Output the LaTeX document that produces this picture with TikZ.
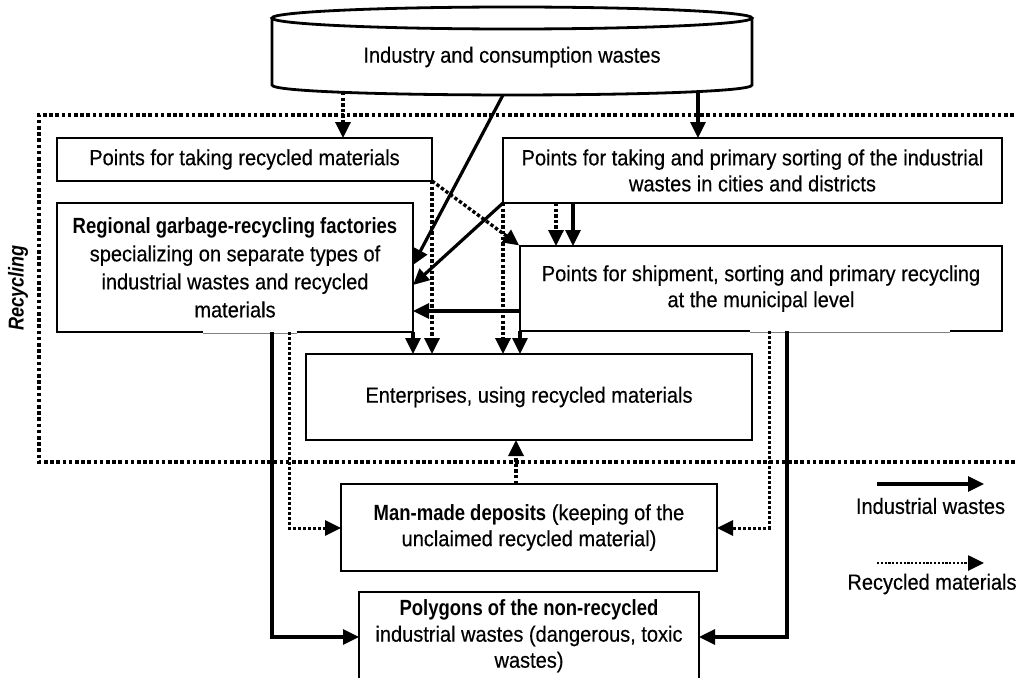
\documentclass[tikz,border=0pt]{standalone}
\usepackage{fontspec}
\setmainfont{Liberation Sans}[FakeStretch=0.91, FakeBold=0.4]
\newfontfamily\nb{Liberation Sans Bold}[FakeStretch=0.84]
\newfontfamily\nbi{Liberation Sans Bold Italic}[FakeStretch=0.84]
\usetikzlibrary{arrows.meta}
\begin{document}
\begin{tikzpicture}[x=1pt,y=-1pt,
  box/.style={draw, line width=2.8pt, inner sep=0pt, outer sep=0pt, align=center,
    font=\fontsize{22}{26}\selectfont},
  tip/.style={-{Triangle[length=16pt,width=15pt]}},
  sol/.style={line width=3.2pt, tip},
  dotl/.style={line width=3.4pt, dash pattern=on 3.4pt off 2.2pt, tip},
  dotthin/.style={line width=3pt, dash pattern=on 3pt off 2pt, tip},
  frame/.style={line width=3.6pt, dash pattern=on 3.6pt off 2.6pt},
  lbl/.style={font=\fontsize{22}{26}\selectfont, inner sep=0pt}]
\clip (0,0) rectangle (1016,677);
\useasboundingbox (0,0) rectangle (1016,677);

% source cylinder
\draw[line width=2.8pt, fill=white] (272,18) -- (272,85) .. controls (272,98.3) and (752,98.3) .. (752,85) -- (752,18);
\draw[line width=2.8pt] (512,18) ellipse [x radius=240, y radius=11];
\node[lbl] (src) at (512,57) {Industry and consumption wastes};
\coordinate (c1) at (343,92);
\coordinate (c2) at (503,95);
\coordinate (c3) at (698,91);

% recycling frame
\draw[frame] (1020,115) -- (39,115) -- (39,462) -- (1020,462);
\node[font=\fontsize{21.5}{24}\nbi, rotate=90, inner sep=0pt] (rec) at (18,288) {Recycling};

% boxes
\node[box, minimum width=375pt, minimum height=43pt] (taking) at (244.5,159.5)
  {Points for taking recycled materials};
\node[box, minimum width=499pt, minimum height=65pt] (sorting) at (752.5,170.5)
  {Points for taking and primary sorting of the industrial\\wastes in cities and districts};
\node[box, minimum width=356pt, minimum height=129pt, font=\fontsize{22}{28}\selectfont] (regional) at (235,267.5)
  {{\nb Regional garbage-recycling factories}\\specializing on separate types of\\industrial wastes and recycled\\materials};
\node[box, minimum width=482pt, minimum height=85pt] (shipment) at (761,288.5)
  {Points for shipment, sorting and primary recycling\\at the municipal level};
\node[box, minimum width=446pt, minimum height=86pt] (enter) at (529,397)
  {Enterprises, using recycled materials};
\node[box, minimum width=376pt, minimum height=87pt] (manmade) at (529,527.5)
  {{\nb Man-made deposits} (keeping of the\\unclaimed recycled material)};
\node[box, minimum width=340pt, minimum height=88pt] (poly) at (529,636)
  {{\nb Polygons of the non-recycled}\\industrial wastes (dangerous, toxic\\wastes)};

% thin segments of box bottoms
\draw[white, line width=3.4pt] (203,332) -- (297,332);
\draw[gray, line width=1pt] (203,333) -- (297,333);
\draw[white, line width=3.4pt] (750,331) -- (950,331);
\draw[gray, line width=1pt] (750,332) -- (950,332);

% connectors from source
\draw[dotl] (c1) -- (taking.north -| c1);
\draw[sol] (c2) -- (regional.east |- 0,265);
\draw[sol] (c3) -- (sorting.north -| c3);

% between upper boxes
\draw[sol] (sorting.south west) -- (regional.east |- 0,285);
\draw[dotl, shorten >=1pt] (taking.south east) -- (shipment.north west);
\draw[dotl] (sorting.south -| 556,0) -- (shipment.north -| 556,0);
\draw[sol] (sorting.south -| 573,0) -- (shipment.north -| 573,0);
\draw[sol] (shipment.west |- 0,311) -- (regional.east |- 0,311);

% into enterprises
\draw[sol] (regional.south east) -- (enter.north -| regional.south east);
\draw[dotl] (taking.south east) -- (enter.north -| taking.south east);
\draw[dotl] (sorting.south west) -- (enter.north -| sorting.south west);
\draw[sol] (shipment.south west) -- (enter.north -| shipment.south west);

% to deposits and polygons
\draw[sol] (regional.south -| 272,0) |- (poly.west |- 0,637);
\draw[dotthin] (regional.south -| 289,0) |- (manmade.west |- 0,528);
\draw[dotthin] (shipment.south -| 769,0) |- (manmade.east |- 0,528);
\draw[sol] (shipment.south -| 787,0) |- (poly.east |- 0,637);
\draw[dotl] (manmade.north -| 516,0) -- (enter.south -| 516,0);

% legend
\coordinate (la) at (877,484);
\coordinate (lb) at (984,484);
\coordinate (lc) at (877,563);
\coordinate (ld) at (984,563);
\draw[sol] (la) -- (lb);
\node[lbl] (lt1) at (930.5,506) {Industrial wastes};
\draw[line width=2.6pt, dash pattern=on 2.2pt off 1.6pt, tip] (lc) -- (ld);
\node[lbl] (lt2) at (932,584) {Recycled materials};
\end{tikzpicture}
\end{document}
